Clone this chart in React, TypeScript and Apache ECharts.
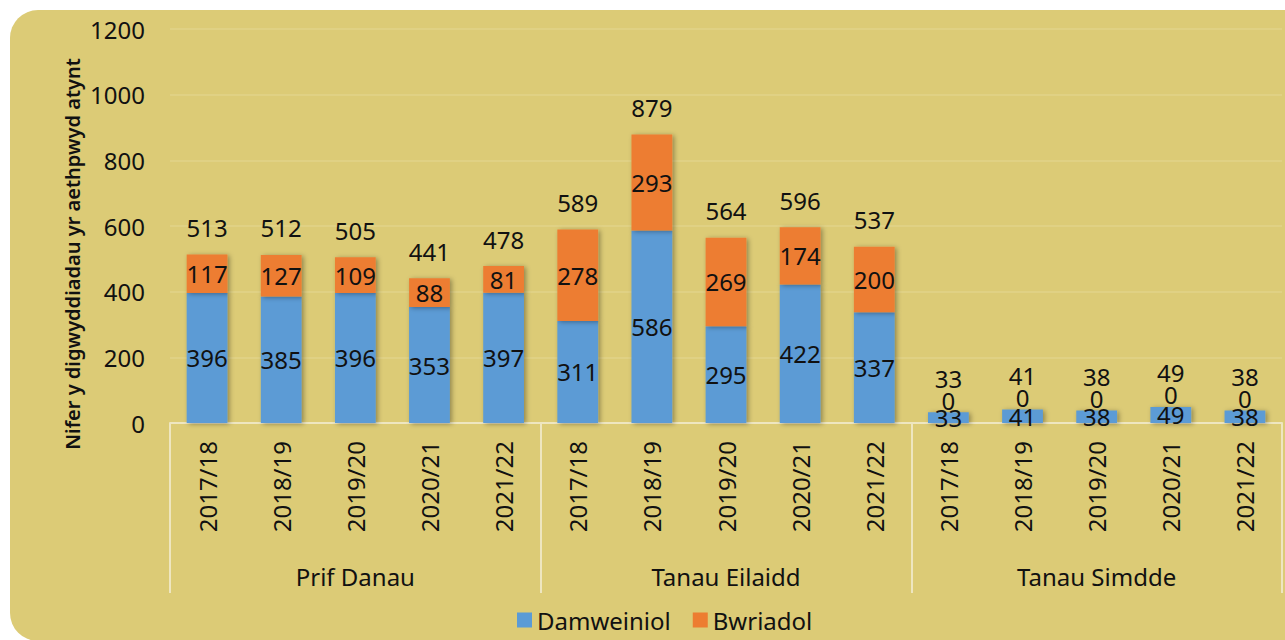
import React, { useEffect, useRef } from "react";
import * as echarts from "echarts";

const years = ["2017/18", "2018/19", "2019/20", "2020/21", "2021/22"];
const groups = ["Prif Danau", "Tanau Eilaidd", "Tanau Simdde"];
const categories = [...years, ...years, ...years];
const damweiniol = [396, 385, 396, 353, 397, 311, 586, 295, 422, 337, 33, 41, 38, 49, 38];
const bwriadol = [117, 127, 109, 88, 81, 278, 293, 269, 174, 200, 0, 0, 0, 0, 0];
const totals = damweiniol.map((v, i) => v + bwriadol[i]);
const yTicks = [0, 200, 400, 600, 800, 1000, 1200];
const yTitle = "Nifer y digwyddiadau yr aethpwyd atynt";

const FONT = "'Noto Sans', sans-serif";
const TXT = "#111";
const LINE = "#EEE6C0";

export default function App() {
  const ref = useRef<HTMLDivElement>(null);
  useEffect(() => {
    if (!ref.current) return;
    const chart = echarts.init(ref.current, undefined, { renderer: "svg" });
    const shadow = {
      shadowBlur: 5,
      shadowColor: "rgba(0,0,0,0.35)",
      shadowOffsetX: 2,
      shadowOffsetY: 1,
    };
    chart.setOption({
      animation: false,
      textStyle: { fontFamily: FONT },
      grid: { left: 170, right: 3, top: 29, bottom: 217 },
      legend: {
        data: ["Damweiniol", "Bwriadol"],
        left: 512,
        top: 603,
        icon: "rect",
        itemWidth: 15,
        itemHeight: 15,
        itemGap: 22,
        textStyle: { fontFamily: FONT, fontSize: 24, color: TXT },
      },
      graphic: [
        {
          type: "text",
          x: 72,
          y: 254,
          rotation: Math.PI / 2,
          style: {
            text: yTitle,
            font: `600 20px ${FONT}`,
            fill: TXT,
            textAlign: "center",
            textVerticalAlign: "middle",
          },
        },
      ],
      xAxis: [
        {
          type: "category",
          data: categories,
          axisLine: { show: true, lineStyle: { color: LINE, width: 2 } },
          axisTick: { show: false },
          axisLabel: {
            rotate: 90,
            margin: 18,
            interval: 0,
            fontSize: 24,
            color: TXT,
            fontFamily: FONT,
          },
        },
        {
          type: "category",
          data: groups,
          position: "bottom",
          axisLine: { show: false },
          axisTick: {
            show: true,
            length: 170,
            interval: 0,
            lineStyle: { color: LINE, width: 2 },
          },
          axisLabel: { margin: 141, fontSize: 24, color: TXT, fontFamily: FONT, interval: 0 },
        },
      ],
      yAxis: {
        type: "value",
        min: yTicks[0],
        max: yTicks[yTicks.length - 1],
        interval: 200,
        axisLine: { show: false },
        axisTick: { show: false },
        splitLine: { show: true, lineStyle: { color: "#E2D38A", width: 1.5 } },
        axisLabel: {
          margin: 25,
          fontSize: 24,
          color: TXT,
          fontFamily: FONT,
          formatter: (v: number) => String(v),
        },
      },
      series: [
        {
          name: "Damweiniol",
          type: "bar",
          stack: "a",
          barWidth: "55%",
          data: damweiniol,
          itemStyle: { color: "#5B9BD5", ...shadow },
          label: { show: true, position: "inside", fontSize: 24, color: TXT, fontFamily: FONT },
        },
        {
          name: "Bwriadol",
          type: "bar",
          stack: "a",
          data: bwriadol.map((v) =>
            v === 0
              ? { value: v, label: { position: "top", distance: 0 } }
              : { value: v }
          ),
          itemStyle: { color: "#ED7D31", ...shadow },
          label: { show: true, position: "inside", fontSize: 24, color: TXT, fontFamily: FONT },
        },
        {
          name: "Cyfanswm",
          type: "bar",
          stack: "a",
          data: totals.map((t, i) =>
            bwriadol[i] === 0
              ? { value: 0, label: { distance: 22 } }
              : { value: 0 }
          ),
          itemStyle: { color: "transparent" },
          label: {
            show: true,
            position: "top",
            distance: 15,
            fontSize: 24,
            color: TXT,
            fontFamily: FONT,
            formatter: (p: any) => String(totals[p.dataIndex]),
          },
        },
      ],
    });
    return () => chart.dispose();
  }, []);

  return (
    <div
      style={{
        position: "absolute",
        left: 0,
        top: 0,
        width: 1285,
        height: 640,
        overflow: "hidden",
        background: "#fff",
      }}
    >
      <div
        style={{
          position: "absolute",
          left: 10,
          top: 10,
          width: 1310,
          height: 631,
          borderRadius: 28,
          background: "#DCCB76",
        }}
      />
      <div
        ref={ref}
        style={{ position: "absolute", left: 0, top: 0, width: 1285, height: 640 }}
      />
    </div>
  );
}
